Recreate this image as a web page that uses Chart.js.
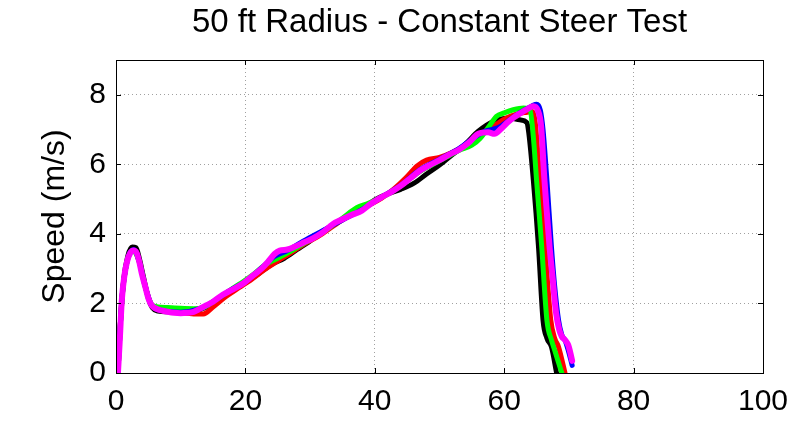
<!DOCTYPE html>
<html>
<head>
<meta charset="utf-8">
<script src="https://cdn.jsdelivr.net/npm/chart.js@4"></script>
<style>
  html, body { margin: 0; padding: 0; background: #fff; }
  #wrap { width: 805px; height: 424px; }
</style>
</head>
<body>
<div id="wrap"><canvas id="speed-chart"></canvas></div>
<script>
// Données (temps en s, vitesse en m/s)
const xTicks = [0, 20, 40, 60, 80, 100];
const yTicks = [0, 2, 4, 6, 8];

const blackX = [0.2, 0.7, 1.2, 1.8, 2.5, 3.1, 3.6, 4.2, 5.0, 5.6, 6.5, 8, 10, 12, 14, 16, 18, 20, 22, 24, 26, 28, 30, 32, 34, 36, 38, 40, 42, 44, 46, 48, 50, 52, 54, 56, 58.3, 60.9, 62.4, 63.5, 63.8, 64.5, 65.3, 66.0, 66.6, 67.3, 68.1];
const blackY = [0, 1.5, 2.7, 3.35, 3.62, 3.6, 3.3, 2.8, 2.15, 1.88, 1.78, 1.76, 1.75, 1.78, 1.9, 2.15, 2.38, 2.6, 2.85, 3.12, 3.3, 3.55, 3.8, 4.08, 4.3, 4.52, 4.72, 4.98, 5.15, 5.28, 5.45, 5.72, 5.98, 6.28, 6.58, 6.95, 7.23, 7.33, 7.28, 7.2, 6.9, 5.55, 3.63, 1.52, 1.0, 0.75, 0];

const redX = [0.3, 0.9, 1.7, 2.7, 3.6, 4.5, 5.5, 7, 10, 12, 13.5, 15, 17, 19, 21, 23, 25, 27, 29, 31, 33, 35, 37, 39, 41, 43, 45, 46.5, 48, 50, 52, 54, 56, 58, 60, 62, 63.5, 64.3, 64.8, 65.5, 66.3, 67.2, 67.8, 68.4, 69.4];
const redY = [0, 2.1, 3.2, 3.52, 3.2, 2.5, 1.95, 1.8, 1.73, 1.7, 1.7, 1.9, 2.2, 2.45, 2.7, 2.98, 3.22, 3.45, 3.7, 3.9, 4.15, 4.4, 4.62, 4.82, 5.02, 5.3, 5.65, 5.95, 6.12, 6.2, 6.35, 6.55, 6.8, 7.05, 7.3, 7.45, 7.5, 7.52, 7.2, 5.55, 3.63, 1.52, 1.0, 0.75, 0];

const greenX = [0.3, 0.9, 1.7, 2.7, 3.6, 4.5, 5.5, 6.5, 8, 10, 12, 13.5, 15, 17, 19, 21, 23, 25.4, 27, 29, 31, 33, 35, 37.2, 39, 41, 43, 45, 47, 49, 51, 53, 55, 56.3, 57.5, 58.8, 60, 61.4, 63.0, 64.0, 64.5, 65.0, 65.8, 66.6, 67.3, 67.9, 68.9];
const greenY = [0, 2.1, 3.2, 3.5, 3.2, 2.5, 1.97, 1.9, 1.88, 1.86, 1.85, 1.88, 2.05, 2.3, 2.55, 2.8, 3.1, 3.34, 3.5, 3.72, 3.95, 4.18, 4.45, 4.75, 4.88, 5.05, 5.25, 5.52, 5.8, 6.0, 6.2, 6.4, 6.55, 6.75, 7.05, 7.38, 7.48, 7.57, 7.62, 7.55, 6.8, 5.55, 3.63, 1.52, 0.95, 0.6, 0];

const blueX = [0.3, 0.9, 1.7, 2.7, 3.6, 4.5, 5.5, 7, 10, 13, 15, 18, 20, 22.5, 24.5, 26.5, 29, 32, 35, 38, 41, 44, 47, 50, 53, 55, 57, 59, 61, 63, 64.3, 65.0, 65.6, 66.0, 66.6, 67.3, 67.8, 68.4, 68.9, 69.4, 69.9, 70.5];
const blueY = [0, 2.1, 3.2, 3.55, 3.2, 2.5, 1.95, 1.8, 1.75, 1.85, 2.05, 2.42, 2.62, 3.02, 3.35, 3.52, 3.8, 4.1, 4.4, 4.7, 5.05, 5.4, 5.85, 6.15, 6.45, 6.72, 6.95, 7.05, 7.3, 7.55, 7.68, 7.73, 7.55, 7.0, 5.55, 3.63, 2.5, 1.52, 1.1, 0.94, 0.65, 0.22];

const magentaX = [0.3, 0.6, 0.9, 1.3, 1.7, 2.2, 2.7, 3.2, 3.6, 4.0, 4.5, 5.0, 5.5, 6.2, 7, 8, 9, 10, 11, 12, 13, 14, 15, 16.5, 18, 19.7, 21, 22.5, 23.5, 24.5, 25.3, 26.5, 27.5, 29, 30.5, 32, 33.5, 35, 36.5, 38, 39.5, 41, 42.5, 44, 45.5, 47, 48.5, 50, 51.5, 53, 54.5, 56, 57.5, 58.5, 59.5, 60.5, 61.5, 62.5, 63.5, 64.5, 65.2, 65.7, 66.2, 66.6, 67.0, 67.5, 68.0, 68.5, 68.9, 69.4, 69.9, 70.2, 70.5];
const magentaY = [0, 1.0, 2.1, 2.8, 3.2, 3.45, 3.52, 3.45, 3.2, 2.85, 2.5, 2.15, 1.95, 1.85, 1.8, 1.76, 1.73, 1.72, 1.73, 1.76, 1.85, 1.95, 2.05, 2.25, 2.4, 2.58, 2.78, 3.0, 3.2, 3.42, 3.52, 3.55, 3.62, 3.75, 3.88, 4.05, 4.28, 4.42, 4.55, 4.67, 4.88, 5.05, 5.2, 5.38, 5.6, 5.82, 5.98, 6.12, 6.28, 6.42, 6.62, 6.88, 6.92, 6.88, 7.02, 7.2, 7.35, 7.47, 7.58, 7.67, 7.55, 7.1, 5.6, 4.6, 3.65, 2.7, 1.75, 1.25, 1.05, 0.95, 0.8, 0.6, 0.35];

const toPoints = (xs, ys) => xs.map((x, i) => ({ x: x, y: ys[i] }));

// Cadre fermé + graduations vers l'intérieur, façon MATLAB
const boxPlugin = {
    id: 'matlabBox',
    afterDatasetsDraw(chart) {
        const { ctx, chartArea: a, scales } = chart;
        const len = 5;
        ctx.save();
        ctx.strokeStyle = '#000';
        ctx.lineWidth = 1;
        ctx.beginPath();
        scales.x.ticks.forEach(t => {
            const px = Math.round(scales.x.getPixelForValue(t.value)) + 0.5;
            ctx.moveTo(px, a.bottom); ctx.lineTo(px, a.bottom - len);
            ctx.moveTo(px, a.top); ctx.lineTo(px, a.top + len);
        });
        scales.y.ticks.forEach(t => {
            const py = Math.round(scales.y.getPixelForValue(t.value)) + 0.5;
            ctx.moveTo(a.left, py); ctx.lineTo(a.left + len, py);
            ctx.moveTo(a.right, py); ctx.lineTo(a.right - len, py);
        });
        ctx.stroke();
        ctx.strokeRect(Math.round(a.left) + 0.5, Math.round(a.top) + 0.5,
            Math.round(a.right - a.left), Math.round(a.bottom - a.top));
        ctx.restore();
    }
};

const lineStyle = (color, width) => ({
    borderColor: color,
    backgroundColor: color,
    borderWidth: width,
    pointRadius: 0,
    fill: false,
    cubicInterpolationMode: 'monotone',
    borderJoinStyle: 'round',
    borderCapStyle: 'round'
});

const font = 'Liberation Sans, Arial, Helvetica, sans-serif';
const gridStyle = {
    color: '#a0a0a0',
    lineWidth: 1,
    drawTicks: false
};

new Chart(document.getElementById('speed-chart'), {
    type: 'line',
    data: {
        datasets: [
            { label: 'magenta', data: toPoints(magentaX, magentaY), ...lineStyle('#ff00ff', 6) },
            { label: 'blue', data: toPoints(blueX, blueY), ...lineStyle('#0000ff', 5) },
            { label: 'green', data: toPoints(greenX, greenY), ...lineStyle('#00ff00', 5) },
            { label: 'red', data: toPoints(redX, redY), ...lineStyle('#ff0000', 5) },
            { label: 'black', data: toPoints(blackX, blackY), ...lineStyle('#000000', 5) }
        ]
    },
    options: {
        responsive: true,
        maintainAspectRatio: false,
        animation: false,
        layout: { padding: { left: 36, right: 42, top: 0, bottom: 0 } },
        plugins: {
            legend: { display: false },
            tooltip: { enabled: false }
        },
        scales: {
            // axe du haut : ne sert qu'à centrer le titre au-dessus du tracé
            top: {
                type: 'linear',
                position: 'top',
                min: 0,
                max: 100,
                afterFit: s => { s.height = 60; },
                ticks: { display: false },
                grid: { display: false, drawTicks: false },
                border: { display: false },
                title: {
                    display: true,
                    text: '50 ft Radius - Constant Steer Test',
                    color: '#000',
                    font: { family: font, size: 33, weight: 'normal' },
                    padding: { top: 3, bottom: 0 }
                }
            },
            x: {
                type: 'linear',
                min: 0,
                max: 100,
                afterBuildTicks: s => { s.ticks = xTicks.map(v => ({ value: v })); },
                afterFit: s => { s.height = 51; },
                ticks: {
                    color: '#000',
                    font: { family: font, size: 30 },
                    padding: 11,
                    maxRotation: 0
                },
                grid: gridStyle,
                border: { display: false, dash: [1, 3] }
            },
            y: {
                min: 0,
                max: 9,
                afterBuildTicks: s => { s.ticks = yTicks.map(v => ({ value: v })); },
                afterFit: s => { s.width = 80; },
                ticks: {
                    color: '#000',
                    font: { family: font, size: 30 },
                    padding: 10
                },
                grid: gridStyle,
                border: { display: false, dash: [1, 3] },
                title: {
                    display: true,
                    text: 'Speed (m/s)',
                    color: '#000',
                    font: { family: font, size: 32 },
                    padding: 0
                }
            }
        }
    },
    plugins: [boxPlugin]
});
</script>
</body>
</html>
